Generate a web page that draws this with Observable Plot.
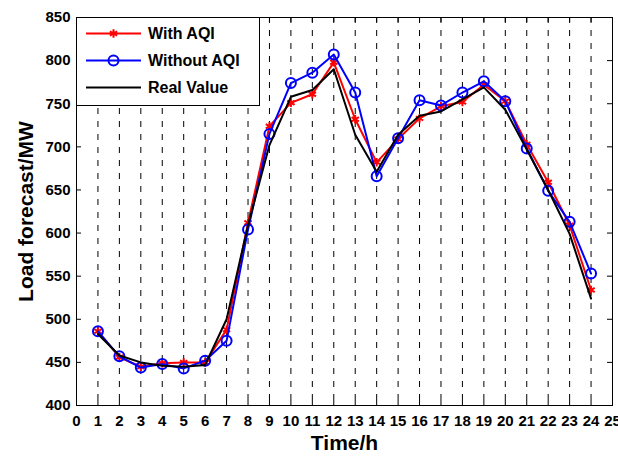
<!DOCTYPE html>
<html>
<head>
<meta charset="utf-8">
<script src="https://cdn.jsdelivr.net/npm/d3@7"></script>
<script src="https://cdn.jsdelivr.net/npm/@observablehq/plot@0.6"></script>
<style>
  body { margin: 0; background: #fff; }
  #chart { position: relative; width: 618px; height: 456px; font-family: "Liberation Sans", Arial, Helvetica, sans-serif; }
  #legend { position: absolute; left: 76px; top: 17px; }
</style>
</head>
<body>
<div id="chart"></div>
<script>
// Hourly load forecast (MW) for one day
const hours = [1, 2, 3, 4, 5, 6, 7, 8, 9, 10, 11, 12, 13, 14, 15, 16, 17, 18, 19, 20, 21, 22, 23, 24];
const withAQI    = [486, 456, 445, 449, 450, 450, 488, 612, 724, 751, 761, 798, 732, 682, 709, 733, 747, 752, 772, 753, 703, 659, 609, 534];
const withoutAQI = [486, 457, 444, 448, 443, 452, 475, 604, 715, 774, 786, 807, 763, 666, 710, 754, 748, 763, 776, 753, 698, 649, 613, 553];
const realValue  = [483, 458, 450, 446, 445, 447, 500, 609, 702, 758, 766, 790, 714, 671, 714, 736, 741, 755, 769, 743, 697, 650, 599, 524];

const xTicks = [0, 1, 2, 3, 4, 5, 6, 7, 8, 9, 10, 11, 12, 13, 14, 15, 16, 17, 18, 19, 20, 21, 22, 23, 24, 25];
const yTicks = [400, 450, 500, 550, 600, 650, 700, 750, 800, 850];

const seriesNames = ["With AQI", "Without AQI", "Real Value"];
const xLabel = "Time/h";
const yLabel = "Load forecast/MW";

const rows = hours.map((h, i) => ({hour: h, withAQI: withAQI[i], withoutAQI: withoutAQI[i], realValue: realValue[i]}));

const W = 618, H = 456, mL = 76, mR = 6, mT = 17, mB = 51;
const innerW = W - mL - mR, innerH = H - mT - mB;
const tickLen = 5;
const font = '"Liberation Sans", Arial, Helvetica, sans-serif';

const chart = Plot.plot({
  width: W, height: H,
  marginLeft: mL, marginRight: mR, marginTop: mT, marginBottom: mB,
  style: {fontFamily: font, fontSize: "15px", fontWeight: "bold", color: "#000", background: "#fff"},
  x: {domain: [0, 25]},
  y: {domain: [400, 850]},
  marks: [
    // dashed vertical grid at each hour
    Plot.ruleX(hours, {x: d => d, stroke: "#000", strokeWidth: 1, strokeDasharray: "6,7"}),
    // inward ticks on all four sides
    Plot.tickX(xTicks, {x: d => d, insetTop: innerH - tickLen, stroke: "#000"}),
    Plot.tickX(xTicks, {x: d => d, insetBottom: innerH - tickLen, stroke: "#000"}),
    Plot.tickY(yTicks, {y: d => d, insetRight: innerW - tickLen, stroke: "#000"}),
    Plot.tickY(yTicks, {y: d => d, insetLeft: innerW - tickLen, stroke: "#000"}),
    Plot.axisX({ticks: xTicks, tickSize: 0, tickPadding: 10, label: null, tickFormat: d => String(d), fontWeight: "bold", fontSize: 15}),
    Plot.axisY({ticks: yTicks, tickSize: 0, tickPadding: 6, label: null, tickFormat: d => String(d), fontWeight: "bold", fontSize: 15}),
    // series
    Plot.line(rows, {x: "hour", y: "withAQI", stroke: "#ff0000", strokeWidth: 2}),
    Plot.dot(rows, {x: "hour", y: "withAQI", symbol: "asterisk", r: 4, stroke: "#ff0000", strokeWidth: 2}),
    Plot.line(rows, {x: "hour", y: "withoutAQI", stroke: "#0000ff", strokeWidth: 2}),
    Plot.dot(rows, {x: "hour", y: "withoutAQI", symbol: "circle", r: 5, stroke: "#0000ff", strokeWidth: 2, fill: "none"}),
    Plot.line(rows, {x: "hour", y: "realValue", stroke: "#000000", strokeWidth: 2}),
    Plot.frame({stroke: "#000", strokeWidth: 1}),
    // axis titles
    Plot.text([xLabel], {frameAnchor: "bottom", text: d => d, textAnchor: "middle", lineAnchor: "middle", dy: 38, fontSize: 21, fontWeight: "bold", fill: "#000"}),
    Plot.text([yLabel], {frameAnchor: "left", text: d => d, textAnchor: "middle", lineAnchor: "middle", rotate: -90, dx: -50, fontSize: 21, fontWeight: "bold", fill: "#000"})
  ]
});

const host = document.getElementById("chart");
host.appendChild(chart);

// legend box in the upper-left corner of the axes
const legendW = 184, legendH = 89;
const legend = d3.create("svg")
  .attr("id", "legend")
  .attr("width", legendW)
  .attr("height", legendH)
  .style("font-family", font);
legend.append("rect")
  .attr("x", 0.5).attr("y", 0.5)
  .attr("width", legendW - 1).attr("height", legendH - 1)
  .attr("fill", "#fff").attr("stroke", "#000");

const entries = [
  {name: seriesNames[0], color: "#ff0000", symbol: d3.symbolAsterisk, r: 4},
  {name: seriesNames[1], color: "#0000ff", symbol: d3.symbolCircle, r: 5},
  {name: seriesNames[2], color: "#000000", symbol: null}
];
entries.forEach((e, i) => {
  const cy = 16.5 + i * 27;
  const g = legend.append("g").attr("transform", `translate(0,${cy})`);
  g.append("line").attr("x1", 10).attr("x2", 65).attr("y1", 0).attr("y2", 0)
    .attr("stroke", e.color).attr("stroke-width", 2);
  if (e.symbol) {
    g.append("path")
      .attr("transform", "translate(37.5,0)")
      .attr("d", d3.symbol().type(e.symbol).size(e.r * e.r * Math.PI)())
      .attr("fill", "none").attr("stroke", e.color).attr("stroke-width", 2);
  }
  g.append("text").attr("x", 72).attr("y", 0).attr("dy", "0.36em")
    .attr("font-size", 16).attr("font-weight", "bold").attr("fill", "#000")
    .text(e.name);
});
host.appendChild(legend.node());
</script>
</body>
</html>
